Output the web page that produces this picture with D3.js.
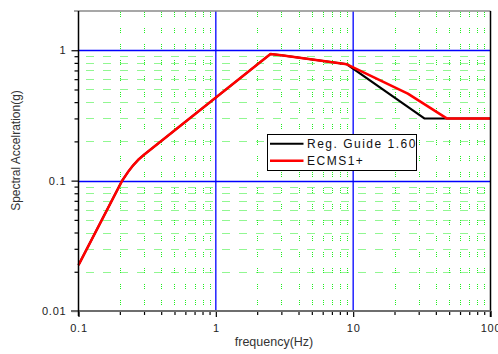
<!DOCTYPE html>
<html>
<head>
<meta charset="utf-8">
<script src="https://cdn.jsdelivr.net/npm/d3@7"></script>
<style>
html,body{margin:0;padding:0;background:#fff;}
svg{display:block;font-family:Arial,"Liberation Sans",sans-serif;}
</style>
</head>
<body>
<svg id="chart" width="498" height="354"></svg>
<script>
// ---- data ----
const rgFreq = [0.1, 0.208, 0.23, 0.25, 0.275, 0.3, 2.5, 3, 9, 33, 100];
const rgAccel = [0.0225, 0.1, 0.117, 0.131, 0.146, 0.158, 0.935, 0.915, 0.78, 0.3, 0.3];
const ecmsFreq = [0.1, 0.208, 0.23, 0.25, 0.275, 0.3, 2.5, 3, 9, 25, 48, 100];
const ecmsAccel = [0.0225, 0.1, 0.117, 0.131, 0.146, 0.158, 0.935, 0.915, 0.78, 0.465, 0.3, 0.3];
const seriesNames = ["Reg. Guide 1.60", "ECMS1+"];
const seriesColors = ["#000000", "#ff0000"];
const xMajorTicks = [0.1, 1, 10, 100];
const xTickLabels = ["0.1", "1", "10", "100"];
const yMajorTicks = [0.01, 0.1, 1];
const yTickLabels = ["0.01", "0.1", "1"];
const xTitle = "frequency(Hz)";
const yTitle = "Spectral Accelration(g)";

// ---- layout ----
const L = 78.5, R = 490.5, T = 11, B = 311;
const svg = d3.select("#chart");
const x = d3.scaleLog().domain([0.1, 100]).range([L, R]);
const y = d3.scaleLog().domain([0.01, 2]).range([B, T]);

const xMinor = [];
[0.1, 1, 10].forEach(d => { for (let k = 2; k <= 9; k++) xMinor.push(d * k); });
const yMinor = [];
[0.01, 0.1, 1].forEach(d => { for (let k = 2; k <= 9; k++) { if (d * k <= 1.9) yMinor.push(d * k); } });

const px = v => Math.round(v) + 0.5;

// minor green dotted grid
const g = svg.append("g");
g.selectAll(".vminor").data(xMinor).enter().append("line")
  .attr("x1", d => px(x(d))).attr("x2", d => px(x(d)))
  .attr("y1", T + 1).attr("y2", B)
  .attr("stroke", "#22ee22").attr("stroke-width", 1)
  .attr("stroke-dasharray", "1,1,1,1,1,11");
g.selectAll(".hminor").data(yMinor).enter().append("line")
  .attr("x1", L).attr("x2", R)
  .attr("y1", d => px(y(d))).attr("y2", d => px(y(d)))
  .attr("stroke", "#22ee22").attr("stroke-width", 1)
  .attr("stroke-dasharray", "1,1,1,1,1,1,1,10")
  .attr("stroke-dashoffset", -8);

// major blue grid
g.selectAll(".vmajor").data([1, 10]).enter().append("line")
  .attr("x1", d => x(d)).attr("x2", d => x(d))
  .attr("y1", T).attr("y2", B)
  .attr("stroke", "#0000ff").attr("stroke-width", 1.3);
g.selectAll(".hmajor").data([0.1, 1]).enter().append("line")
  .attr("x1", L).attr("x2", R)
  .attr("y1", d => px(y(d))).attr("y2", d => px(y(d)))
  .attr("stroke", "#0000ff").attr("stroke-width", 1.3);

// series
const line = d3.line().x(d => x(d[0])).y(d => y(d[1]));
const rgData = rgFreq.map((f, i) => [f, rgAccel[i]]);
const ecmsData = ecmsFreq.map((f, i) => [f, ecmsAccel[i]]);
svg.append("path").datum(rgData).attr("d", line)
  .attr("fill", "none").attr("stroke", seriesColors[0]).attr("stroke-width", 2);
svg.append("path").datum(ecmsData).attr("d", line)
  .attr("fill", "none").attr("stroke", seriesColors[1]).attr("stroke-width", 2.5)
  .attr("stroke-linejoin", "round");

// frame: top (gray), right (black)
svg.append("line").attr("x1", 74).attr("x2", R).attr("y1", T).attr("y2", T)
  .attr("stroke", "#8a8a8a").attr("stroke-width", 1.5);
svg.append("line").attr("x1", R).attr("x2", R).attr("y1", T).attr("y2", B + 6)
  .attr("stroke", "#000").attr("stroke-width", 1.5);

// axes
const xAxisMinor = d3.axisBottom(x).tickValues(xMinor).tickSize(4).tickFormat("");
const xAxisMajor = d3.axisBottom(x).tickValues(xMajorTicks).tickSize(6)
  .tickFormat((d, i) => xTickLabels[i]).tickPadding(7);
const gx1 = svg.append("g").attr("transform", `translate(0,${B})`).call(xAxisMinor);
const gx2 = svg.append("g").attr("transform", `translate(0,${B})`).call(xAxisMajor);
[gx1, gx2].forEach(a => { a.select(".domain").remove(); a.selectAll("line").attr("stroke", "#000").attr("stroke-width", 1.2); });
gx2.selectAll("text").attr("font-size", "11px").attr("letter-spacing", "0.8px")
  .attr("fill", "#222").attr("font-family", "Arial, 'Liberation Sans', sans-serif");

const yAxisMinor = d3.axisLeft(y).tickValues(yMinor).tickSize(4).tickFormat("");
const yAxisMajor = d3.axisLeft(y).tickValues(yMajorTicks).tickSize(7)
  .tickFormat((d, i) => yTickLabels[i]).tickPadding(5);
const gy1 = svg.append("g").attr("transform", `translate(${L},0)`).call(yAxisMinor);
const gy2 = svg.append("g").attr("transform", `translate(${L},0)`).call(yAxisMajor);
[gy1, gy2].forEach(a => { a.select(".domain").remove(); a.selectAll("line").attr("stroke", "#000").attr("stroke-width", 1.2); });
gy2.selectAll("text").attr("font-size", "11px").attr("letter-spacing", "0.8px")
  .attr("fill", "#222").attr("font-family", "Arial, 'Liberation Sans', sans-serif");

// axis lines
svg.append("line").attr("x1", 71).attr("x2", R).attr("y1", B).attr("y2", B)
  .attr("stroke", "#6e6e6e").attr("stroke-width", 2);
svg.append("line").attr("x1", L).attr("x2", L).attr("y1", T).attr("y2", B + 5)
  .attr("stroke", "#000").attr("stroke-width", 1.5);

// titles
svg.append("text").attr("x", 274).attr("y", 346).attr("text-anchor", "middle")
  .attr("font-size", "12.5px").attr("fill", "#333").text(xTitle);
svg.append("text").attr("transform", "translate(20,150.5) rotate(-90)")
  .attr("text-anchor", "middle").attr("font-size", "12px").attr("fill", "#333").text(yTitle);

// legend
const lg = svg.append("g");
lg.append("rect").attr("x", 267.5).attr("y", 134.5).attr("width", 149).attr("height", 36)
  .attr("fill", "#fff").attr("stroke", "#000").attr("stroke-width", 1);
const legY = [143.7, 160.7];
seriesNames.forEach((name, i) => {
  lg.append("line").attr("x1", 270).attr("x2", 303.5).attr("y1", legY[i]).attr("y2", legY[i])
    .attr("stroke", seriesColors[i]).attr("stroke-width", i === 1 ? 2.5 : 2);
  lg.append("text").attr("x", 307).attr("y", legY[i] + 4.3)
    .attr("font-size", "12px").attr("letter-spacing", "1.5px").attr("fill", "#111").text(name);
});
</script>
</body>
</html>
